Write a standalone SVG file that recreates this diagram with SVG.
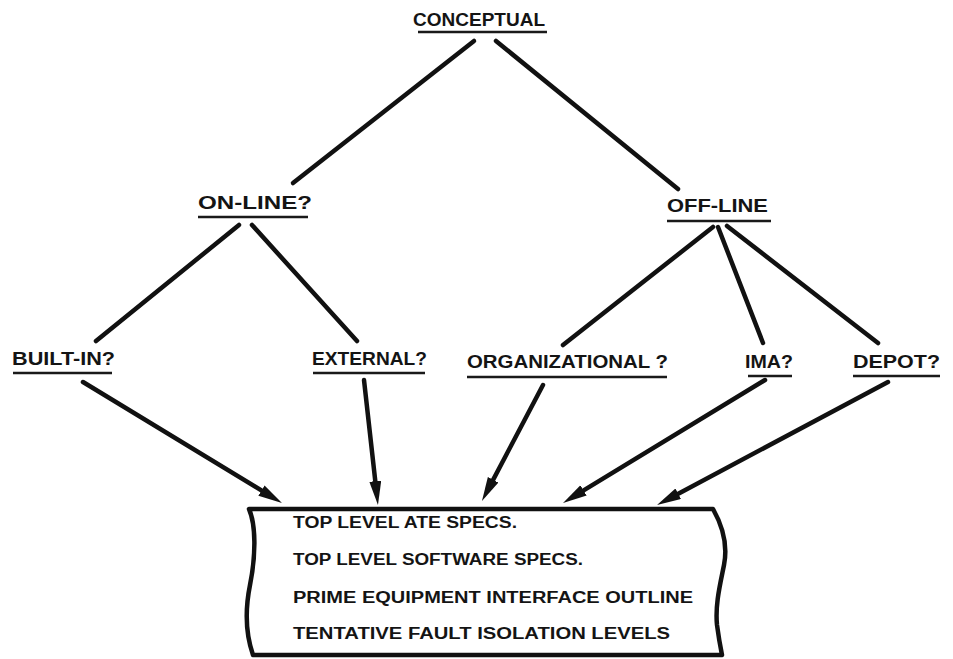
<svg xmlns="http://www.w3.org/2000/svg" width="953" height="659" viewBox="0 0 953 659">
<style>
.lbl{font-family:"Liberation Sans",Arial,sans-serif;font-weight:bold;font-size:18px;fill:#141414}
.box{font-family:"Liberation Sans",Arial,sans-serif;font-weight:bold;font-size:16px;fill:#141414}
.ul{stroke:#1a1a1a;stroke-width:2.5;fill:none}
.edge{stroke:#111;stroke-width:4.5;fill:none;stroke-linecap:round}
.arr{stroke:#111;stroke-width:4.5;fill:none;stroke-linecap:round;marker-end:url(#ah)}
</style>
<defs>
<marker id="ah" markerUnits="userSpaceOnUse" markerWidth="26" markerHeight="14" refX="10" refY="6" orient="auto">
<path d="M0,0 L24,6 L0,12 Z" fill="#111"/>
</marker>
</defs>
<rect width="953" height="659" fill="#fff"/>
<g id="connectors">
<line class="edge" x1="474" y1="41" x2="293" y2="183"/>
<line class="edge" x1="496" y1="41" x2="678" y2="189"/>
<line class="edge" x1="239" y1="225" x2="96" y2="341"/>
<line class="edge" x1="252" y1="225" x2="357" y2="341"/>
<line class="edge" x1="713" y1="227" x2="563" y2="345"/>
<line class="edge" x1="718" y1="227" x2="763" y2="343"/>
<line class="edge" x1="727" y1="226" x2="878" y2="343"/>
<line class="arr" x1="83" y1="382" x2="270" y2="495.7"/>
<line class="arr" x1="364" y1="380" x2="376.4" y2="491.1"/>
<line class="arr" x1="543" y1="385" x2="488.5" y2="488.6"/>
<line class="arr" x1="765" y1="380" x2="575" y2="495.7"/>
<line class="arr" x1="888" y1="382" x2="669.4" y2="498.4"/>
</g>
<g id="conceptual">
<text class="lbl" x="413" y="26" textLength="132" lengthAdjust="spacingAndGlyphs">CONCEPTUAL</text>
<line class="ul" x1="418" y1="32" x2="547" y2="32"/>
</g>
<g id="online">
<text class="lbl" x="198" y="209" textLength="114" lengthAdjust="spacingAndGlyphs">ON-LINE?</text>
<line class="ul" x1="198" y1="217" x2="308" y2="217"/>
</g>
<g id="offline">
<text class="lbl" x="667" y="212" textLength="101" lengthAdjust="spacingAndGlyphs">OFF-LINE</text>
<line class="ul" x1="667" y1="221" x2="771" y2="221"/>
</g>
<g id="builtin">
<text class="lbl" x="12" y="365" textLength="103" lengthAdjust="spacingAndGlyphs">BUILT-IN?</text>
<line class="ul" x1="13" y1="373" x2="112" y2="373"/>
</g>
<g id="external">
<text class="lbl" x="312" y="365" textLength="115" lengthAdjust="spacingAndGlyphs">EXTERNAL?</text>
<line class="ul" x1="313" y1="373" x2="425" y2="373"/>
</g>
<g id="organizational">
<text class="lbl" x="467" y="368" textLength="201" lengthAdjust="spacingAndGlyphs">ORGANIZATIONAL ?</text>
<line class="ul" x1="467" y1="377" x2="667" y2="377"/>
</g>
<g id="ima">
<text class="lbl" x="745" y="368" textLength="48" lengthAdjust="spacingAndGlyphs">IMA?</text>
<line class="ul" x1="748" y1="376" x2="792" y2="376"/>
</g>
<g id="depot">
<text class="lbl" x="853" y="368" textLength="87" lengthAdjust="spacingAndGlyphs">DEPOT?</text>
<line class="ul" x1="853" y1="376" x2="940" y2="376"/>
</g>
<g id="specs">
<path d="M249,509 L713,509 C722,525 728,545 724,565 C720,585 715,605 717,625 C719,640 721,650 722,655 L253,655 C246,635 245,610 250,585 C256,555 256,525 249,509 Z" fill="none" stroke="#111" stroke-width="4.5" stroke-linejoin="round"/>
<text class="box" x="293" y="528" textLength="224" lengthAdjust="spacingAndGlyphs">TOP LEVEL ATE SPECS.</text>
<text class="box" x="293" y="565" textLength="290" lengthAdjust="spacingAndGlyphs">TOP LEVEL SOFTWARE SPECS.</text>
<text class="box" x="293" y="603" textLength="400" lengthAdjust="spacingAndGlyphs">PRIME EQUIPMENT INTERFACE OUTLINE</text>
<text class="box" x="293" y="639" textLength="377" lengthAdjust="spacingAndGlyphs">TENTATIVE FAULT ISOLATION LEVELS</text>
</g>
</svg>
